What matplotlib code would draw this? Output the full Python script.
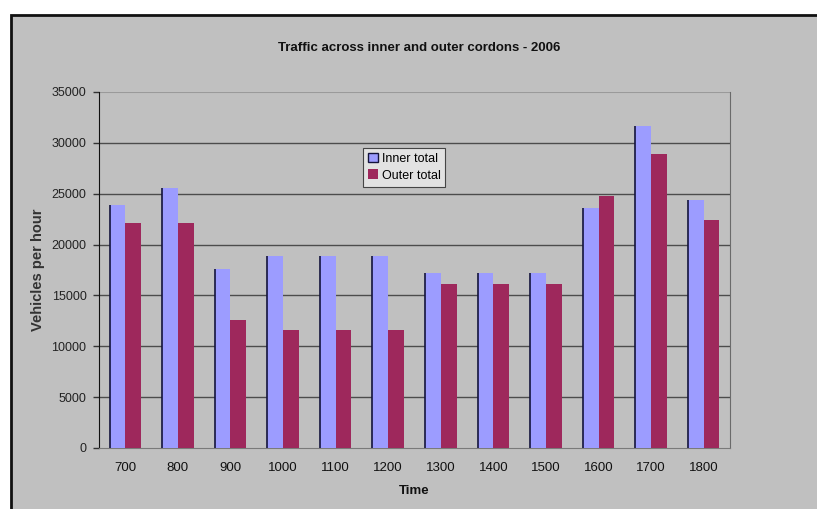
import matplotlib
matplotlib.use('Agg')
import matplotlib.pyplot as plt
from matplotlib.patches import Rectangle
import numpy as np

plt.rcParams['font.family'] = ['Liberation Sans', 'DejaVu Sans']

# hourly counts at the two cordons
times = ['700', '800', '900', '1000', '1100', '1200', '1300', '1400', '1500', '1600', '1700', '1800']
inner_total = [23900, 25600, 17600, 18900, 18900, 18900, 17200, 17200, 17200, 23600, 31700, 24400]
outer_total = [22100, 22100, 12600, 11600, 11600, 11600, 16100, 16100, 16100, 24800, 28900, 22400]
yticks = [0, 5000, 10000, 15000, 20000, 25000, 30000, 35000]

W, H = 817, 509
fig = plt.figure(figsize=(W / 100, H / 100), dpi=100)
fig.patch.set_facecolor('white')

# grey chart box, only top and left edges inside the frame
fig.patches.append(Rectangle((11 / W, -0.1), 1.2, 1 - 15 / H + 0.1,
                             transform=fig.transFigure, facecolor='#c0c0c0',
                             edgecolor='#111111', linewidth=2, zorder=-5))

ax = fig.add_axes([99 / W, (H - 448) / H, 631 / W, 356 / H])
ax.set_facecolor('#c0c0c0')

x = np.arange(len(times))
bw = 0.3
ax.bar(x - bw / 2, inner_total, bw, color='#9c9cff', edgecolor='none', zorder=3, label='Inner total')
ax.bar(x + bw / 2, outer_total, bw, color='#9e285c', edgecolor='none', zorder=3, label='Outer total')
# dark left edge of the inner bars
ax.vlines(x - bw, 0, inner_total, color='#14143c', linewidth=1.2, zorder=4)

ax.set_xlim(-0.5, len(times) - 0.5)
ax.set_ylim(0, 35000)

for v in yticks[1:-1]:
    ax.axhline(v, color='#4c4c4c', linewidth=1, zorder=1)
ax.axhline(yticks[-1], color='#9a9a9a', linewidth=1.5, zorder=1)

ax.spines['top'].set_visible(False)
ax.spines['left'].set_color('#111111')
ax.spines['bottom'].set_color('#7a7a7a')
ax.spines['right'].set_color('#6a6a6a')

ax.set_yticks(yticks)
ax.set_yticklabels([str(v) for v in yticks], fontsize=9, color='#222222')
ax.tick_params(axis='y', length=4, width=1, color='#333333', pad=5)
ax.set_xticks(x)
ax.set_xticklabels(times, fontsize=9.5, color='#111111')
ax.tick_params(axis='x', length=0, pad=10)

leg = ax.legend(loc='upper left', bbox_to_anchor=(0.418, 0.843), fontsize=9,
                frameon=True, fancybox=False, facecolor='#ebebeb', edgecolor='#222222',
                handlelength=0.8, handleheight=0.8, handletextpad=0.3,
                borderpad=0.4, labelspacing=0.35, borderaxespad=0)
leg.get_frame().set_linewidth(0.8)
leg.legend_handles[0].set_edgecolor('#14143c')
leg.legend_handles[0].set_linewidth(1)

fig.text(419 / W, 1 - 48 / H, 'Traffic across inner and outer cordons - 2006',
         ha='center', va='center', fontsize=9.5, fontweight='bold', color='#111111')
fig.text(38 / W, 1 - 270 / H, 'Vehicles per hour', rotation=90,
         ha='center', va='center', fontsize=10.5, fontweight='bold', color='#333333')
fig.text(414 / W, 1 - 491 / H, 'Time', ha='center', va='center',
         fontsize=9.5, fontweight='bold', color='#111111')

plt.savefig('out.png', dpi=100)
